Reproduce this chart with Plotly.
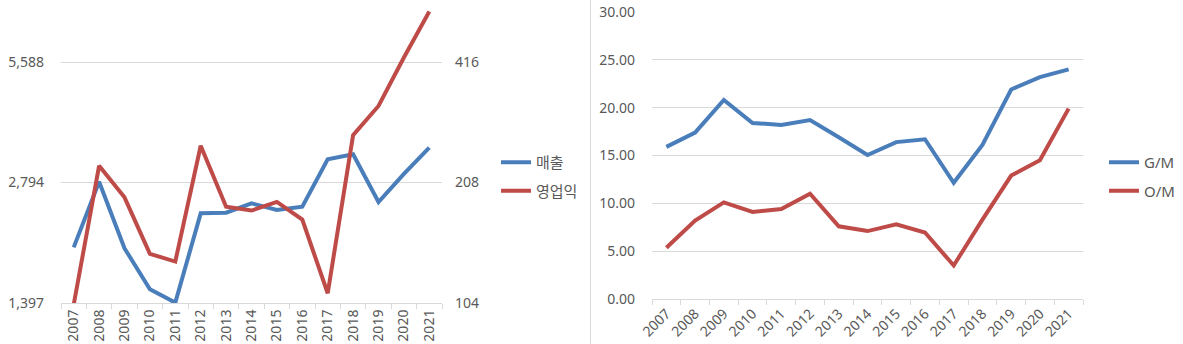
import math
import plotly.graph_objects as go

W, H = 1183, 344

years = [str(y) for y in range(2007, 2022)]

# 매출 (left log axis) and 영업익 (right log axis)
sales = [1924, 2807, 1914, 1512, 1400, 2340, 2348, 2479, 2385, 2431, 3193, 3286, 2498, 2935, 3413]
op_profit = [103, 229, 191, 138, 132, 257, 181, 177, 186, 168, 110, 273, 323, 427, 556]

# G/M and O/M margins (%)
gross_margin = [15.9, 17.4, 20.8, 18.4, 18.2, 18.7, 16.9, 15.05, 16.4, 16.7, 12.15, 16.1, 21.9, 23.2, 24.0]
op_margin = [5.36, 8.2, 10.1, 9.1, 9.4, 11.0, 7.6, 7.1, 7.8, 6.95, 3.5, 8.3, 12.9, 14.5, 19.9]

left_ticks = [1397, 2794, 5588]
left_tick_text = ["1,397", "2,794", "5,588"]
right_ticks = [104, 208, 416]
right_tick_text = ["104", "208", "416"]
margin_ticks = [0, 5, 10, 15, 20, 25, 30]
margin_tick_text = ["0.00", "5.00", "10.00", "15.00", "20.00", "25.00", "30.00"]

BLUE = "#4a7ebb"
RED = "#be4b48"
GRID = "#d9d9d9"
TXT = "#595959"
FONT = "Noto Sans, Noto Sans CJK KR"


def px_x(p):
    return p / W


def px_y(p):
    return 1 - p / H


fig = go.Figure()

fig.add_trace(go.Scatter(x=years, y=sales, name="매출", mode="lines",
                         line=dict(color=BLUE, width=4), xaxis="x", yaxis="y",
                         legend="legend", legendgroup="a"))
fig.add_trace(go.Scatter(x=years, y=op_profit, name="영업익", mode="lines",
                         line=dict(color=RED, width=4), xaxis="x", yaxis="y2",
                         legend="legend", legendgroup="b"))
fig.add_trace(go.Scatter(x=years, y=gross_margin, name="G/M", mode="lines",
                         line=dict(color=BLUE, width=4), xaxis="x3", yaxis="y3",
                         legend="legend2", legendgroup="c"))
fig.add_trace(go.Scatter(x=years, y=op_margin, name="O/M", mode="lines",
                         line=dict(color=RED, width=4), xaxis="x3", yaxis="y3",
                         legend="legend2", legendgroup="d"))

# log axes: one doubling spans ~120.5 px, plot runs from y=303 to the top edge
px_per_decade = 120.5 / math.log10(2)
span = 303 / px_per_decade
lo_left = math.log10(left_ticks[0])
lo_right = math.log10(right_ticks[0])

tickfont = dict(family=FONT, size=14, color=TXT)

xcommon = dict(type="category", range=[-0.5, len(years) - 0.5], automargin=False,
               showgrid=False, showline=True, linecolor=GRID,
               linewidth=1, ticks="outside", tickson="boundaries", ticklen=5,
               tickcolor=GRID, tickfont=tickfont, fixedrange=True)

fig.update_layout(
    width=W, height=H,
    margin=dict(l=0, r=0, t=0, b=0, autoexpand=False),
    paper_bgcolor="white", plot_bgcolor="white",
    font=dict(family=FONT, color=TXT),
    xaxis=dict(domain=[px_x(61), px_x(442)], anchor="y", tickangle=-90, **xcommon),
    yaxis=dict(domain=[px_y(303), 1], type="log", automargin=False,
               range=[lo_left, lo_left + span],
               tickvals=left_ticks, ticktext=left_tick_text,
               showgrid=True, gridcolor=GRID, gridwidth=1,
               showline=False, zeroline=False, ticks="",
               ticklabelstandoff=16, tickfont=tickfont),
    yaxis2=dict(overlaying="y", side="right", type="log", anchor="x", automargin=False,
                range=[lo_right, lo_right + span],
                tickvals=right_ticks, ticktext=right_tick_text,
                showgrid=False, showline=False, zeroline=False, ticks="",
                ticklabelstandoff=12, tickfont=tickfont),
    xaxis3=dict(domain=[px_x(652), px_x(1083)], anchor="y3", tickangle=-45, **xcommon),
    yaxis3=dict(domain=[px_y(299), px_y(12)], anchor="x3", range=[0, 30], automargin=False,
                tickvals=margin_ticks, ticktext=margin_tick_text,
                showgrid=True, gridcolor=GRID, gridwidth=1,
                showline=False, zeroline=False, ticks="",
                ticklabelstandoff=16, tickfont=tickfont),
    legend=dict(x=px_x(496), y=px_y(146), xanchor="left", yanchor="top",
                font=dict(family=FONT, size=15, color=TXT),
                bgcolor="rgba(0,0,0,0)", tracegroupgap=6, itemwidth=30),
    legend2=dict(x=px_x(1104), y=px_y(146), xanchor="left", yanchor="top",
                 font=dict(family=FONT, size=15, color=TXT),
                 bgcolor="rgba(0,0,0,0)", tracegroupgap=6, itemwidth=30),
    shapes=[dict(type="line", xref="paper", yref="paper",
                 x0=px_x(590.5), x1=px_x(590.5), y0=0, y1=1,
                 line=dict(color=GRID, width=1))],
)

fig.write_html("out.html")
